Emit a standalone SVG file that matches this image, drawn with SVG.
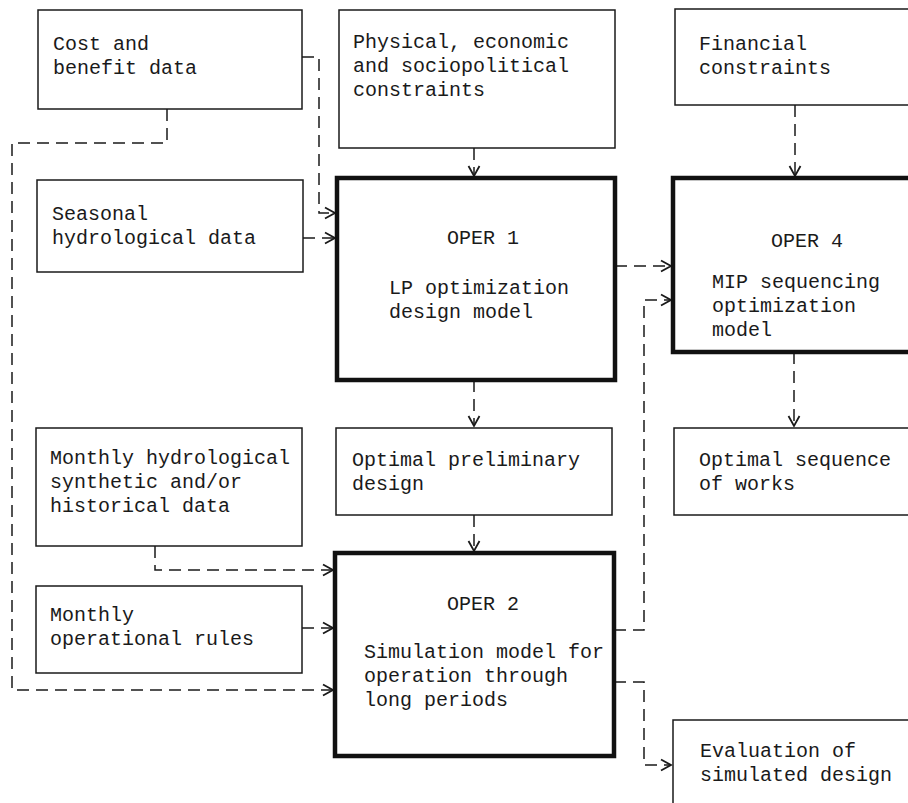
<svg xmlns="http://www.w3.org/2000/svg" width="908" height="803" viewBox="0 0 908 803">
<defs>
<style>
.box{fill:#fff;stroke:#1a1a1a;stroke-width:1.5}
.op{fill:#fff;stroke:#111;stroke-width:4.5}
.t{font-family:"Liberation Mono","Courier New",monospace;font-size:20px;fill:#1a1a1a}
.c{text-anchor:middle}
.con{fill:none;stroke:#1a1a1a;stroke-width:1.5;stroke-dasharray:12 7}
</style>
<marker id="ah" markerUnits="userSpaceOnUse" markerWidth="14" markerHeight="14" viewBox="-12 -7 14 14" refX="0" refY="0" orient="auto">
<path d="M-10,-5.5 L0,0 L-10,5.5" fill="none" stroke="#1a1a1a" stroke-width="1.8" stroke-dasharray="none"/>
</marker>
</defs>
<rect width="908" height="803" fill="#fff"/>
<g id="connectors">
<path class="con" d="M302,57 H319 V213 H335" marker-end="url(#ah)"/>
<path class="con" d="M167,109 V143 H12 V690 H333" marker-end="url(#ah)"/>
<path class="con" d="M303,238 H335" marker-end="url(#ah)"/>
<path class="con" d="M474,148 V176" marker-end="url(#ah)"/>
<path class="con" d="M795,105 V176" marker-end="url(#ah)"/>
<path class="con" d="M615,266 H671" marker-end="url(#ah)"/>
<path class="con" d="M614,630 H644 V300 H671" marker-end="url(#ah)"/>
<path class="con" d="M474,380 V426" marker-end="url(#ah)"/>
<path class="con" d="M474,515 V551" marker-end="url(#ah)"/>
<path class="con" d="M794,352 V426" marker-end="url(#ah)"/>
<path class="con" d="M155,546 V570 H333" marker-end="url(#ah)"/>
<path class="con" d="M302,628 H333" marker-end="url(#ah)"/>
<path class="con" d="M614,682 H644 V765 H671" marker-end="url(#ah)"/>
</g>
<g id="cost">
<rect class="box" x="38" y="10" width="264" height="99"/>
<text class="t" x="53" y="50">Cost and</text>
<text class="t" x="53" y="74">benefit data</text>
</g>
<g id="physical">
<rect class="box" x="339" y="10" width="276" height="138"/>
<text class="t" x="353" y="48">Physical, economic</text>
<text class="t" x="353" y="72">and sociopolitical</text>
<text class="t" x="353" y="96">constraints</text>
</g>
<g id="financial">
<rect class="box" x="675" y="9" width="250" height="96"/>
<text class="t" x="699" y="50">Financial</text>
<text class="t" x="699" y="74">constraints</text>
</g>
<g id="seasonal">
<rect class="box" x="37" y="180" width="266" height="92"/>
<text class="t" x="52" y="220">Seasonal</text>
<text class="t" x="52" y="244">hydrological data</text>
</g>
<g id="oper1">
<rect class="op" x="337" y="178" width="278" height="202"/>
<text class="t c" x="483" y="244">OPER 1</text>
<text class="t" x="389" y="294">LP optimization</text>
<text class="t" x="389" y="318">design model</text>
</g>
<g id="oper4">
<rect class="op" x="673" y="178" width="250" height="174"/>
<text class="t c" x="807" y="247">OPER 4</text>
<text class="t" x="712" y="288">MIP sequencing</text>
<text class="t" x="712" y="312">optimization</text>
<text class="t" x="712" y="336">model</text>
</g>
<g id="monthly-hydro">
<rect class="box" x="36" y="428" width="266" height="118"/>
<text class="t" x="50" y="464">Monthly hydrological</text>
<text class="t" x="50" y="488">synthetic and/or</text>
<text class="t" x="50" y="512">historical data</text>
</g>
<g id="optimal-prelim">
<rect class="box" x="336" y="428" width="276" height="87"/>
<text class="t" x="352" y="466">Optimal preliminary</text>
<text class="t" x="352" y="490">design</text>
</g>
<g id="optimal-seq">
<rect class="box" x="674" y="428" width="250" height="87"/>
<text class="t" x="699" y="466">Optimal sequence</text>
<text class="t" x="699" y="490">of works</text>
</g>
<g id="monthly-ops">
<rect class="box" x="36" y="586" width="266" height="87"/>
<text class="t" x="50" y="621">Monthly</text>
<text class="t" x="50" y="645">operational rules</text>
</g>
<g id="oper2">
<rect class="op" x="335" y="553" width="279" height="203"/>
<text class="t c" x="483" y="610">OPER 2</text>
<text class="t" x="364" y="658">Simulation model for</text>
<text class="t" x="364" y="682">operation through</text>
<text class="t" x="364" y="706">long periods</text>
</g>
<g id="evaluation">
<rect class="box" x="673" y="720" width="250" height="100"/>
<text class="t" x="700" y="757">Evaluation of</text>
<text class="t" x="700" y="781">simulated design</text>
</g>
</svg>
